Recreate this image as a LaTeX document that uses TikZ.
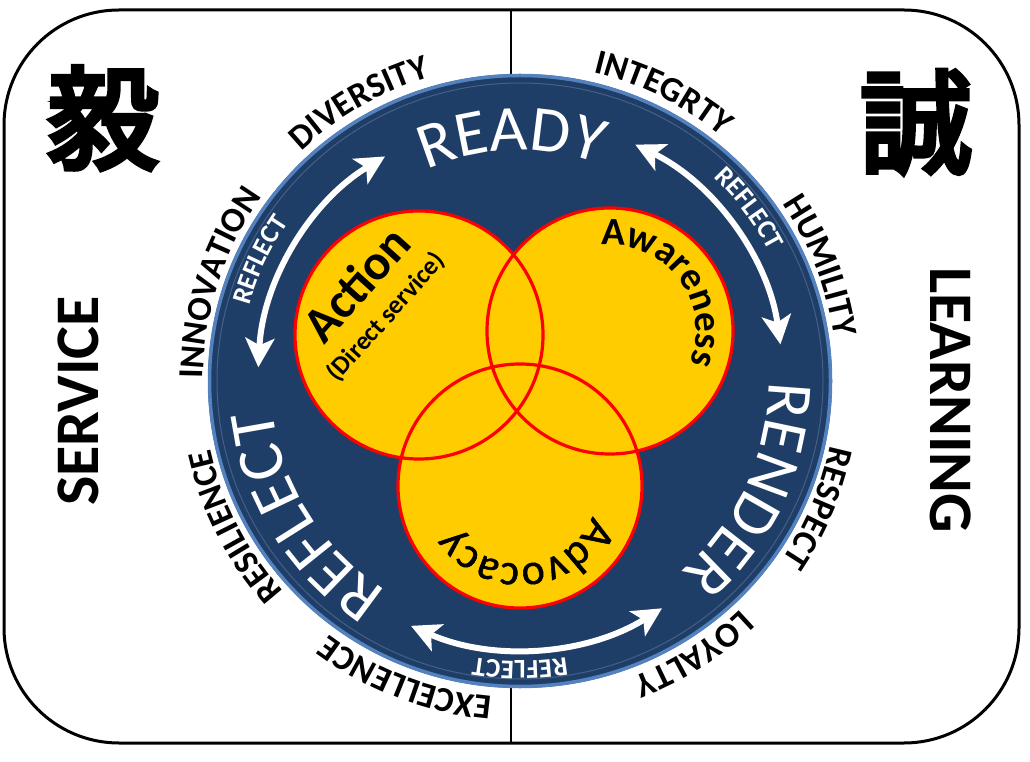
\documentclass[tikz,border=0pt]{standalone}
\usepackage{fontspec}
\setmainfont{Carlito}
\newfontfamily\cjkfont[FakeBold=5]{Noto Sans CJK JP}
\usetikzlibrary{decorations.text,arrows.meta,calc}
\definecolor{navyc}{RGB}{31,62,103}
\definecolor{rimc}{RGB}{84,130,190}
\definecolor{innerrim}{RGB}{70,95,135}
\definecolor{yellowc}{RGB}{255,204,0}
\definecolor{redc}{RGB}{255,0,0}
% #1 centre, #2 radius, #3 mid angle, #4 half span, #5 format, #6 text
\newcommand\ArcText[6]{%
  \path[decorate,decoration={text along path,text align=center,text={|#5|#6}}]
    ($(#1)+({#3+#4}:#2pt)$) arc[start angle={#3+#4}, end angle={#3-#4}, radius=#2pt];}
\tikzset{
  frame/.style={line width=3pt, rounded corners=115pt},
  ring/.style={fill=yellowc},
  ringline/.style={draw=redc, line width=3.2pt},
  rarrow/.style={white, line width=6pt,
    {Stealth[length=29pt,width=29pt,inset=7pt]}-{Stealth[length=29pt,width=29pt,inset=7pt]}},
  side/.style={font=\bfseries\fontsize{62}{62}\selectfont},
  kanji/.style={font=\cjkfont\fontsize{112}{112}\selectfont},
}
\newcommand\BigW{\fontsize{65}{65}\selectfont\color{white}}
\newcommand\SmallW{\bfseries\fontsize{27}{27}\selectfont\color{white}}
\newcommand\OutW{\bfseries\fontsize{35}{35}\selectfont}
\begin{document}
\begin{tikzpicture}[x=1pt,y=1pt]
\useasboundingbox (0,0) rectangle (1030,761);
\coordinate (C) at (520,380);
\coordinate (topmid) at (511,751);
\coordinate (botmid) at (511,18);
% frame
\draw[frame] (4,751) rectangle (1019,18);
\draw[line width=2.5pt] (topmid) -- (botmid);
% disc
\fill[navyc] (C) ellipse[x radius=312, y radius=307];
\draw[rimc, line width=3.5pt] (C) ellipse[x radius=310.5, y radius=305.5];
\draw[innerrim, line width=1pt] (C) ellipse[x radius=303, y radius=298];
% venn
\coordinate (actc) at (419,426);
\coordinate (awac) at (610,430);
\coordinate (advc) at (520,275);
\fill[ring] (actc) circle[radius=124] (awac) circle[radius=123] (advc) circle[radius=122];
\draw[ringline] (actc) circle[radius=124] (awac) circle[radius=123] (advc) circle[radius=122];
% arrows
\draw[rarrow] ($(C)+(121:262)$) arc[start angle=121,end angle=177,radius=262];
\draw[rarrow] ($(C)+(64:263)$) arc[start angle=64,end angle=8,radius=263];
\draw[rarrow] ($(C)+(246:268)$) arc[start angle=246,end angle=302,radius=268];
% big words
\ArcText{C}{231}{92}{60}{\BigW}{READY}
\ArcText{C}{249}{-25}{60}{\BigW}{RENDER}
\ArcText{C}{249}{212}{60}{\BigW}{REFLECT}
% small reflect labels
\ArcText{C}{281}{155}{40}{\SmallW}{REFLECT}
\ArcText{C}{281}{37}{40}{\SmallW}{REFLECT}
\ArcText{C}{280}{-90}{40}{\SmallW}{REFLECT}
% outer values
\ArcText{C}{317}{120}{50}{\OutW}{DIVERSITY}
\ArcText{C}{317}{63.5}{50}{\OutW}{INTEGRTY}
\ArcText{C}{317}{21}{50}{\OutW}{HUMILITY}
\ArcText{C}{317}{-23}{50}{\OutW}{RESPECT}
\ArcText{C}{317}{-57.6}{50}{\OutW}{LOYALTY}
\ArcText{C}{317}{-111}{50}{\OutW}{EXCELLENCE}
\ArcText{C}{317}{207}{50}{\OutW}{RESILIENCE}
\ArcText{C}{317}{162}{50}{\OutW}{INNOVATION}
% venn labels
\node[rotate=48, font=\bfseries\fontsize{50}{50}\selectfont, inner sep=0pt] (acttxt) at (356,477) {Action};
\node[rotate=48, font=\bfseries\fontsize{26}{26}\selectfont, inner sep=0pt] (dstxt) at (386,444) {(Direct service)};
\ArcText{awac}{86}{37}{80}{\bfseries\fontsize{39}{39}\selectfont}{Awareness}
\ArcText{advc}{78}{-85}{80}{\addfontfeature{FakeBold=1.2}\fontsize{44}{44}\selectfont}{Advocacy}
% sides
\node[side, rotate=90] (svc) at (78,360) {SERVICE};
\node[side, rotate=-90] (lrn) at (951,361) {LEARNING};
\node[kanji] (k1) at (103,643) {毅};
\node[kanji] (k2) at (916,639) {誠};
\end{tikzpicture}
\end{document}
